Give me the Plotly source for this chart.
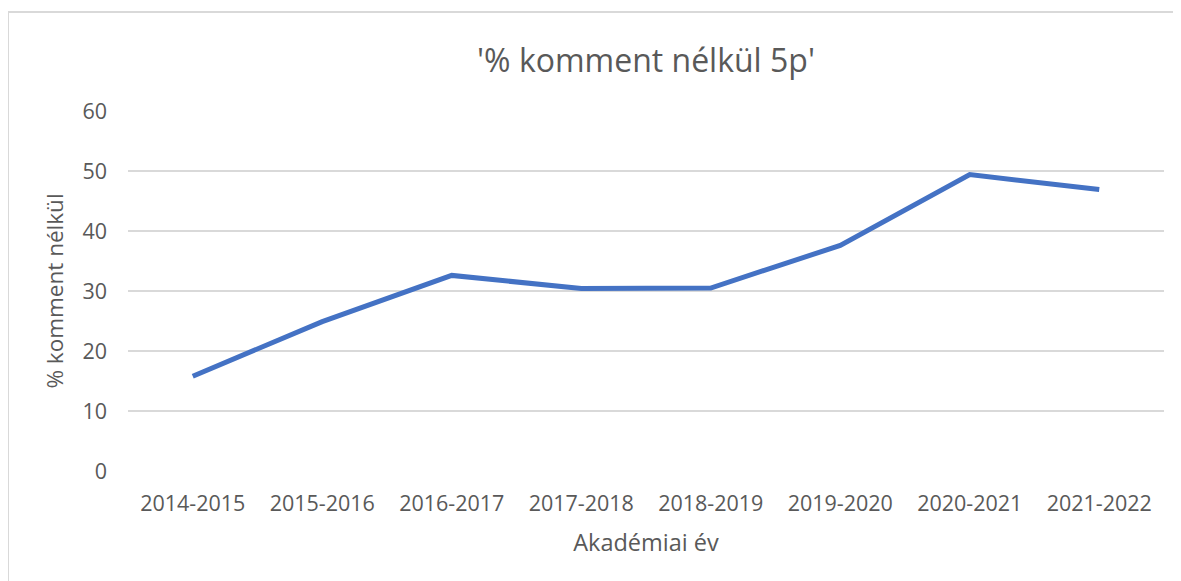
import plotly.graph_objects as go

years = ["2014-2015", "2015-2016", "2016-2017", "2017-2018",
         "2018-2019", "2019-2020", "2020-2021", "2021-2022"]
pct_no_comment = [15.8, 24.9, 32.6, 30.4, 30.5, 37.6, 49.4, 46.9]

title_text = "'% komment nélkül 5p'"
x_title = "Akadémiai év"
y_title = "% komment nélkül"
y_ticks = [0, 10, 20, 30, 40, 50, 60]

# page body has an 8px margin, so the figure is offset by 8px
W, H = 1181, 573
ml, mr, mt, mb = 120, 25, 103, 110
pw, ph = W - ml - mr, H - mt - mb

FONT = "Open Sans"
TXT = "#595959"
GRID = "#d9d9d9"

fig = go.Figure()
fig.add_trace(go.Scatter(
    x=years, y=pct_no_comment, mode="lines",
    line=dict(color="#4472C4", width=5),
    hoverinfo="x+y", showlegend=False,
))

def px2paper_x(px):
    return (px - ml) / pw

def px2paper_y(py):
    return (H - mb - py) / ph

# outer chart border (extends beyond right/bottom edges as in the reference)
fig.add_shape(type="rect", xref="paper", yref="paper",
              x0=px2paper_x(0), x1=px2paper_x(W + 40),
              y0=px2paper_y(H + 20), y1=px2paper_y(4),
              line=dict(color=GRID, width=2), fillcolor="rgba(0,0,0,0)",
              layer="below")

fig.update_layout(
    width=W, height=H,
    margin=dict(l=ml, r=mr, t=mt, b=mb, autoexpand=False),
    paper_bgcolor="white", plot_bgcolor="white",
    font=dict(family=FONT, color=TXT),
    title=dict(text=title_text, x=0.5, xanchor="center", xref="paper",
               y=1 - 53 / H, yanchor="middle",
               font=dict(size=32, color=TXT, family=FONT)),
    xaxis=dict(
        type="category", range=[-0.5, 7.5],
        showgrid=False, showline=False, zeroline=False,
        tickfont=dict(size=21.5, color=TXT),
        ticks="", ticklabelstandoff=17,
        title=dict(text=x_title, font=dict(size=23.5, color=TXT), standoff=19),
    ),
    yaxis=dict(
        range=[0, 60], tickvals=y_ticks,
        showgrid=True, gridcolor=GRID, gridwidth=1.5,
        zeroline=False, showline=False,
        tickfont=dict(size=21.5, color=TXT),
        ticks="", ticklabelstandoff=20,
        title=dict(text=y_title, font=dict(size=22.5, color=TXT), standoff=12),
    ),
)

fig.write_html("out.html")
